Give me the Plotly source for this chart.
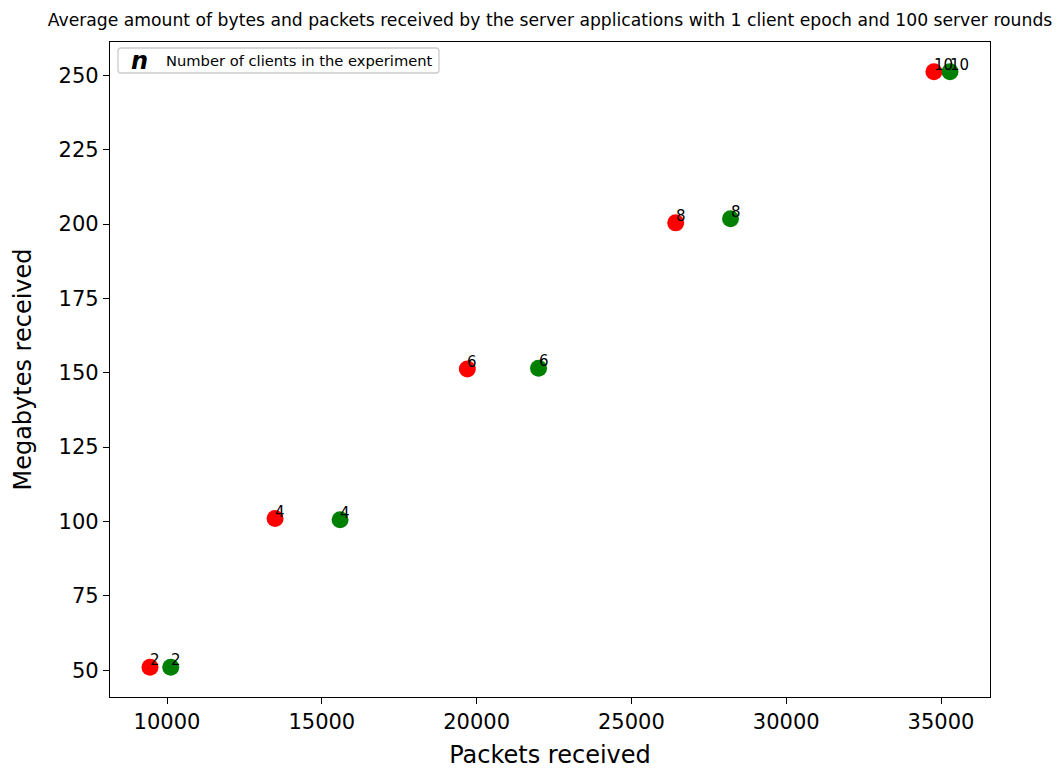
import plotly.graph_objects as go

clients = [2, 4, 6, 8, 10]
red_packets = [9450, 13490, 19700, 26430, 34770]
red_mb = [51.0, 101.0, 151.3, 200.4, 251.2]
green_packets = [10120, 15590, 22000, 28200, 35290]
green_mb = [51.0, 100.6, 151.5, 201.8, 251.2]

x_ticks = [10000, 15000, 20000, 25000, 30000, 35000]
y_ticks = [50, 75, 100, 125, 150, 175, 200, 225, 250]

FONT = "DejaVu Sans"
W, H = 1059, 769
L, R, T, B = 110, 69, 42, 72

fig = go.Figure()
for xs, ys, col in [(red_packets, red_mb, "red"), (green_packets, green_mb, "green")]:
    fig.add_trace(go.Scatter(x=xs, y=ys, mode="markers",
                             marker=dict(color=col, size=17, line=dict(width=0)),
                             showlegend=False, hoverinfo="skip"))
    for xv, yv, n in zip(xs, ys, clients):
        fig.add_annotation(x=xv, y=yv, text=str(n), showarrow=False,
                           xanchor="left", yanchor="bottom", xshift=-2, yshift=-4,
                           font=dict(family=FONT, size=15, color="black"))

xmin = min(red_packets + green_packets); xmax = max(red_packets + green_packets)
ymin = min(red_mb + green_mb); ymax = max(red_mb + green_mb)
xr = xmax - xmin; yr = ymax - ymin

axis_common = dict(showgrid=False, zeroline=False, showline=True, linecolor="black",
                   linewidth=1.3, mirror=True, ticks="outside", ticklen=6, tickwidth=1.3,
                   tickcolor="black", tickfont=dict(family=FONT, size=21, color="black"),
                   automargin=False)

fig.update_xaxes(range=[xmin - 0.05 * xr, xmax + 0.05 * xr], tickvals=x_ticks,
                 ticktext=[str(v) for v in x_ticks],
                 title=dict(text="Packets received", font=dict(family=FONT, size=24, color="black"), standoff=18),
                 **axis_common)
fig.update_yaxes(range=[ymin - 0.05 * yr, ymax + 0.05 * yr], tickvals=y_ticks,
                 ticktext=[str(v) for v in y_ticks],
                 title=dict(text="Megabytes received", font=dict(family=FONT, size=24, color="black"), standoff=20),
                 **axis_common)

pw = W - L - R; ph = H - T - B
def px(xp): return (xp - L) / pw
def py(yp): return (H - B - yp) / ph

# legend-like box
x0, x1, y0, y1, rr = px(118), px(439), py(73), py(48), 3
rx, ry = rr / pw, rr / ph
path = (f"M {x0+rx},{y0} L {x1-rx},{y0} Q {x1},{y0} {x1},{y0+ry} L {x1},{y1-ry} Q {x1},{y1} {x1-rx},{y1} "
        f"L {x0+rx},{y1} Q {x0},{y1} {x0},{y1-ry} L {x0},{y0+ry} Q {x0},{y0} {x0+rx},{y0} Z")
fig.add_shape(type="path", path=path, xref="paper", yref="paper",
              line=dict(color="#cccccc", width=1.3), fillcolor="rgba(255,255,255,0.8)")
fig.add_annotation(x=px(139), y=py(61), xref="paper", yref="paper", text="<b><i>n</i></b>",
                   showarrow=False, xanchor="center", yanchor="middle",
                   font=dict(family=FONT, size=24, color="black"))
fig.add_annotation(x=px(164), y=py(61), xref="paper", yref="paper",
                   text="Number of clients in the experiment", showarrow=False,
                   xanchor="left", yanchor="middle", font=dict(family=FONT, size=14.7, color="black"))

fig.update_layout(
    width=W, height=H, margin=dict(l=L, r=R, t=T, b=B, autoexpand=False),
    paper_bgcolor="white", plot_bgcolor="white",
    title=dict(text="Average amount of bytes and packets received by the server applications with 1 client epoch and 100 server rounds",
               x=(L + pw / 2) / W, xanchor="center", y=1 - 20 / H, yanchor="middle",
               font=dict(family=FONT, size=17.2, color="black")),
)
fig.write_html("out.html")
